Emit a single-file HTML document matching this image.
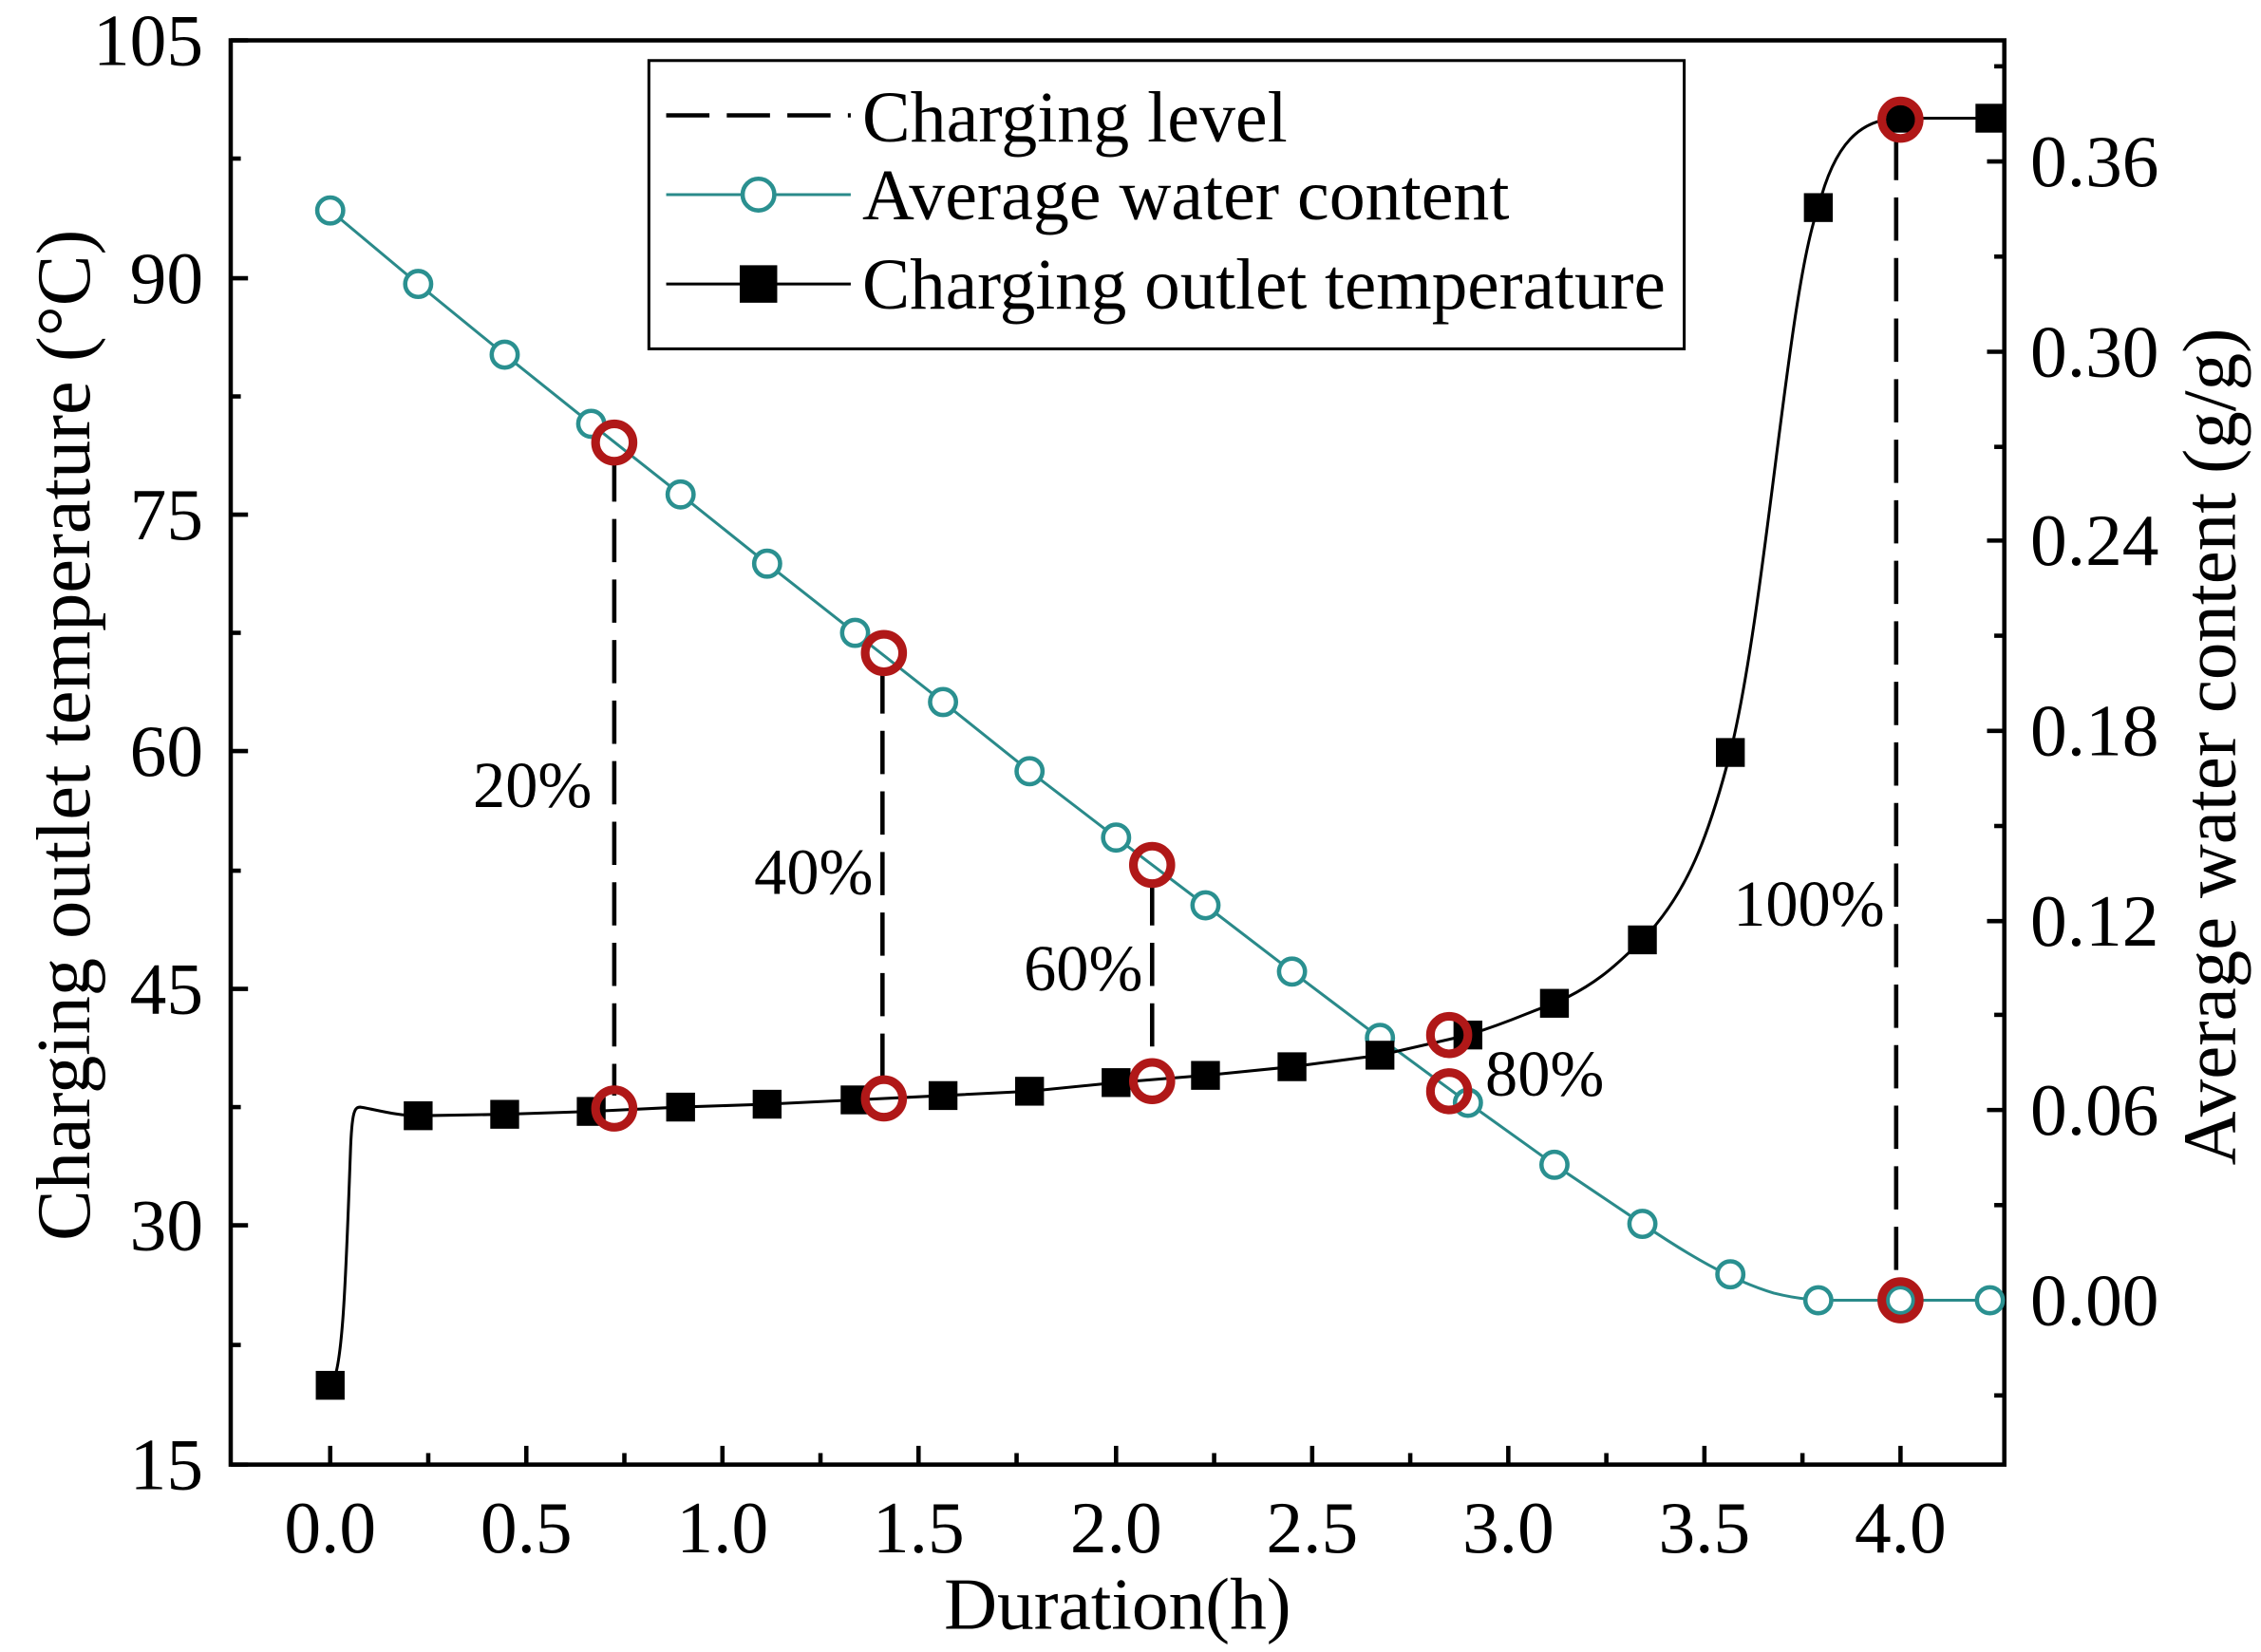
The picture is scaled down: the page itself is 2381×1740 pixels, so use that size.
<!DOCTYPE html>
<html><head><meta charset="utf-8"><style>html,body{margin:0;padding:0;background:#fff}svg{display:block}</style></head>
<body>
<svg width="2381" height="1740" viewBox="0 0 1568 1146" preserveAspectRatio="none" xmlns="http://www.w3.org/2000/svg" font-family="Liberation Serif, serif">
<rect width="1568" height="1146" fill="#fff"/>
<rect x="160" y="28" width="1230" height="988" fill="none" stroke="#000" stroke-width="3"/>
<g stroke="#000" stroke-width="3">
<line x1="160" y1="1016" x2="172" y2="1016"/><line x1="160" y1="850" x2="172" y2="850"/><line x1="160" y1="686" x2="172" y2="686"/><line x1="160" y1="521" x2="172" y2="521"/><line x1="160" y1="357" x2="172" y2="357"/><line x1="160" y1="193" x2="172" y2="193"/><line x1="160" y1="28" x2="172" y2="28"/>
<line x1="160" y1="933" x2="167" y2="933"/><line x1="160" y1="768" x2="167" y2="768"/><line x1="160" y1="604" x2="167" y2="604"/><line x1="160" y1="439" x2="167" y2="439"/><line x1="160" y1="275" x2="167" y2="275"/><line x1="160" y1="110" x2="167" y2="110"/>
<line x1="229" y1="1016" x2="229" y2="1003"/><line x1="365" y1="1016" x2="365" y2="1003"/><line x1="501" y1="1016" x2="501" y2="1003"/><line x1="637" y1="1016" x2="637" y2="1003"/><line x1="774" y1="1016" x2="774" y2="1003"/><line x1="910" y1="1016" x2="910" y2="1003"/><line x1="1046" y1="1016" x2="1046" y2="1003"/><line x1="1182" y1="1016" x2="1182" y2="1003"/><line x1="1318" y1="1016" x2="1318" y2="1003"/>
<line x1="297" y1="1016" x2="297" y2="1008"/><line x1="433" y1="1016" x2="433" y2="1008"/><line x1="569" y1="1016" x2="569" y2="1008"/><line x1="705" y1="1016" x2="705" y2="1008"/><line x1="842" y1="1016" x2="842" y2="1008"/><line x1="978" y1="1016" x2="978" y2="1008"/><line x1="1114" y1="1016" x2="1114" y2="1008"/><line x1="1250" y1="1016" x2="1250" y2="1008"/>
<line x1="1390" y1="902" x2="1378" y2="902"/><line x1="1390" y1="770" x2="1378" y2="770"/><line x1="1390" y1="639" x2="1378" y2="639"/><line x1="1390" y1="507" x2="1378" y2="507"/><line x1="1390" y1="375" x2="1378" y2="375"/><line x1="1390" y1="244" x2="1378" y2="244"/><line x1="1390" y1="112" x2="1378" y2="112"/>
<line x1="1390" y1="968" x2="1383" y2="968"/><line x1="1390" y1="836" x2="1383" y2="836"/><line x1="1390" y1="704" x2="1383" y2="704"/><line x1="1390" y1="573" x2="1383" y2="573"/><line x1="1390" y1="441" x2="1383" y2="441"/><line x1="1390" y1="310" x2="1383" y2="310"/><line x1="1390" y1="178" x2="1383" y2="178"/><line x1="1390" y1="46" x2="1383" y2="46"/>
</g>
<g font-size="51" fill="#000">
<g text-anchor="end">
<text x="141" y="1033">15</text><text x="141" y="867">30</text><text x="141" y="703">45</text><text x="141" y="538">60</text><text x="141" y="374">75</text><text x="141" y="210">90</text><text x="141" y="45">105</text>
</g>
<g text-anchor="middle">
<text x="229" y="1077">0.0</text><text x="365" y="1077">0.5</text><text x="501" y="1077">1.0</text><text x="637" y="1077">1.5</text><text x="774" y="1077">2.0</text><text x="910" y="1077">2.5</text><text x="1046" y="1077">3.0</text><text x="1182" y="1077">3.5</text><text x="1318" y="1077">4.0</text>
</g>
<g text-anchor="start">
<text x="1408" y="919">0.00</text><text x="1408" y="787">0.06</text><text x="1408" y="656">0.12</text><text x="1408" y="524">0.18</text><text x="1408" y="392">0.24</text><text x="1408" y="261">0.30</text><text x="1408" y="129">0.36</text>
</g>
</g>
<text x="775" y="1130" font-size="51" text-anchor="middle">Duration(h)</text>
<text transform="translate(62,510) rotate(-90)" font-size="53" text-anchor="middle">Charging outlet temperature (°C)</text>
<text transform="translate(1550,518) rotate(-90)" font-size="52" text-anchor="middle">Average water content (g/g)</text>
<g stroke="#000" stroke-width="3" stroke-dasharray="30,12">
<line x1="426" y1="318" x2="426" y2="760"/><line x1="612" y1="465" x2="612" y2="752"/><line x1="799" y1="612" x2="799" y2="740"/><line x1="1315" y1="95" x2="1315" y2="890"/>
</g>
<path d="M229,146 L290,197 L350,246 L410,294 L472,343 L532,391 L593,439 L654,487 L714,535 L774,581 L836,628 L896,674 L957,720 L1018,765 L1078,808 L1139,849 C1170,870 1200,888 1230,897 C1250,902 1261,902 1280,902 L1380,902" fill="none" stroke="#2a8a8a" stroke-width="2"/>
<g fill="#fff" stroke="#2a9090" stroke-width="3">
<circle cx="229" cy="146" r="9"/><circle cx="290" cy="197" r="9"/><circle cx="350" cy="246" r="9"/><circle cx="410" cy="294" r="9"/><circle cx="472" cy="343" r="9"/><circle cx="532" cy="391" r="9"/><circle cx="593" cy="439" r="9"/><circle cx="654" cy="487" r="9"/><circle cx="714" cy="535" r="9"/><circle cx="774" cy="581" r="9"/><circle cx="836" cy="628" r="9"/><circle cx="896" cy="674" r="9"/><circle cx="957" cy="720" r="9"/><circle cx="1018" cy="765" r="9"/><circle cx="1078" cy="808" r="9"/><circle cx="1139" cy="849" r="9"/><circle cx="1200" cy="884" r="9"/><circle cx="1261" cy="902" r="9"/><circle cx="1318" cy="902" r="9"/><circle cx="1380" cy="902" r="9"/>
</g>
<path d="M229,961 C238,955 240,880 243,800 C244,770 246,768 250,768 C262,770 275,774 290,774 L350,773 L410,771 L472,768 L532,766 L593,763 L654,760 L714,757 L774,751 L836,746 L896,740 L957,732 L1018,718 C1050,708 1060,702 1078,696 C1110,682 1125,665 1139,652 C1170,620 1185,580 1200,522 C1225,420 1240,200 1261,144 C1272,100 1290,82 1318,82 L1380,82" fill="none" stroke="#000" stroke-width="2"/>
<g fill="#000">
<rect x="219" y="951" width="20" height="20"/><rect x="280" y="764" width="20" height="20"/><rect x="340" y="763" width="20" height="20"/><rect x="400" y="761" width="20" height="20"/><rect x="462" y="758" width="20" height="20"/><rect x="522" y="756" width="20" height="20"/><rect x="583" y="753" width="20" height="20"/><rect x="644" y="750" width="20" height="20"/><rect x="704" y="747" width="20" height="20"/><rect x="764" y="741" width="20" height="20"/><rect x="826" y="736" width="20" height="20"/><rect x="886" y="730" width="20" height="20"/><rect x="947" y="722" width="20" height="20"/><rect x="1008" y="708" width="20" height="20"/><rect x="1068" y="686" width="20" height="20"/><rect x="1129" y="642" width="20" height="20"/><rect x="1190" y="512" width="20" height="20"/><rect x="1251" y="134" width="20" height="20"/><rect x="1308" y="72" width="20" height="20"/><rect x="1370" y="72" width="20" height="20"/>
</g>
<g fill="none" stroke="#b01818" stroke-width="6">
<circle cx="426" cy="307" r="13"/><circle cx="426" cy="769" r="13"/><circle cx="613" cy="453" r="13"/><circle cx="613" cy="762" r="13"/><circle cx="799" cy="600" r="13"/><circle cx="799" cy="750" r="13"/><circle cx="1005" cy="718" r="13"/><circle cx="1005" cy="757" r="13"/><circle cx="1318" cy="83" r="13"/><circle cx="1318" cy="902" r="13"/>
</g>
<g font-size="45" fill="#000">
<text x="328" y="560">20%</text><text x="523" y="620">40%</text><text x="710" y="687">60%</text><text x="1030" y="760">80%</text><text x="1202" y="642">100%</text>
</g>
<rect x="450" y="42" width="718" height="200" fill="#fff" stroke="#000" stroke-width="2"/>
<line x1="462" y1="80" x2="590" y2="80" stroke="#000" stroke-width="3" stroke-dasharray="30,12"/>
<line x1="462" y1="135" x2="590" y2="135" stroke="#2a8a8a" stroke-width="2"/>
<circle cx="526" cy="135" r="11" fill="#fff" stroke="#2a9090" stroke-width="3"/>
<line x1="462" y1="197" x2="590" y2="197" stroke="#000" stroke-width="2"/>
<rect x="513" y="184" width="26" height="26" fill="#000"/>
<g font-size="50" fill="#000">
<text x="598" y="98">Charging level</text>
<text x="598" y="152">Average water content</text>
<text x="598" y="214" textLength="557" lengthAdjust="spacingAndGlyphs">Charging outlet temperature</text>
</g>
</svg>
</body></html>
